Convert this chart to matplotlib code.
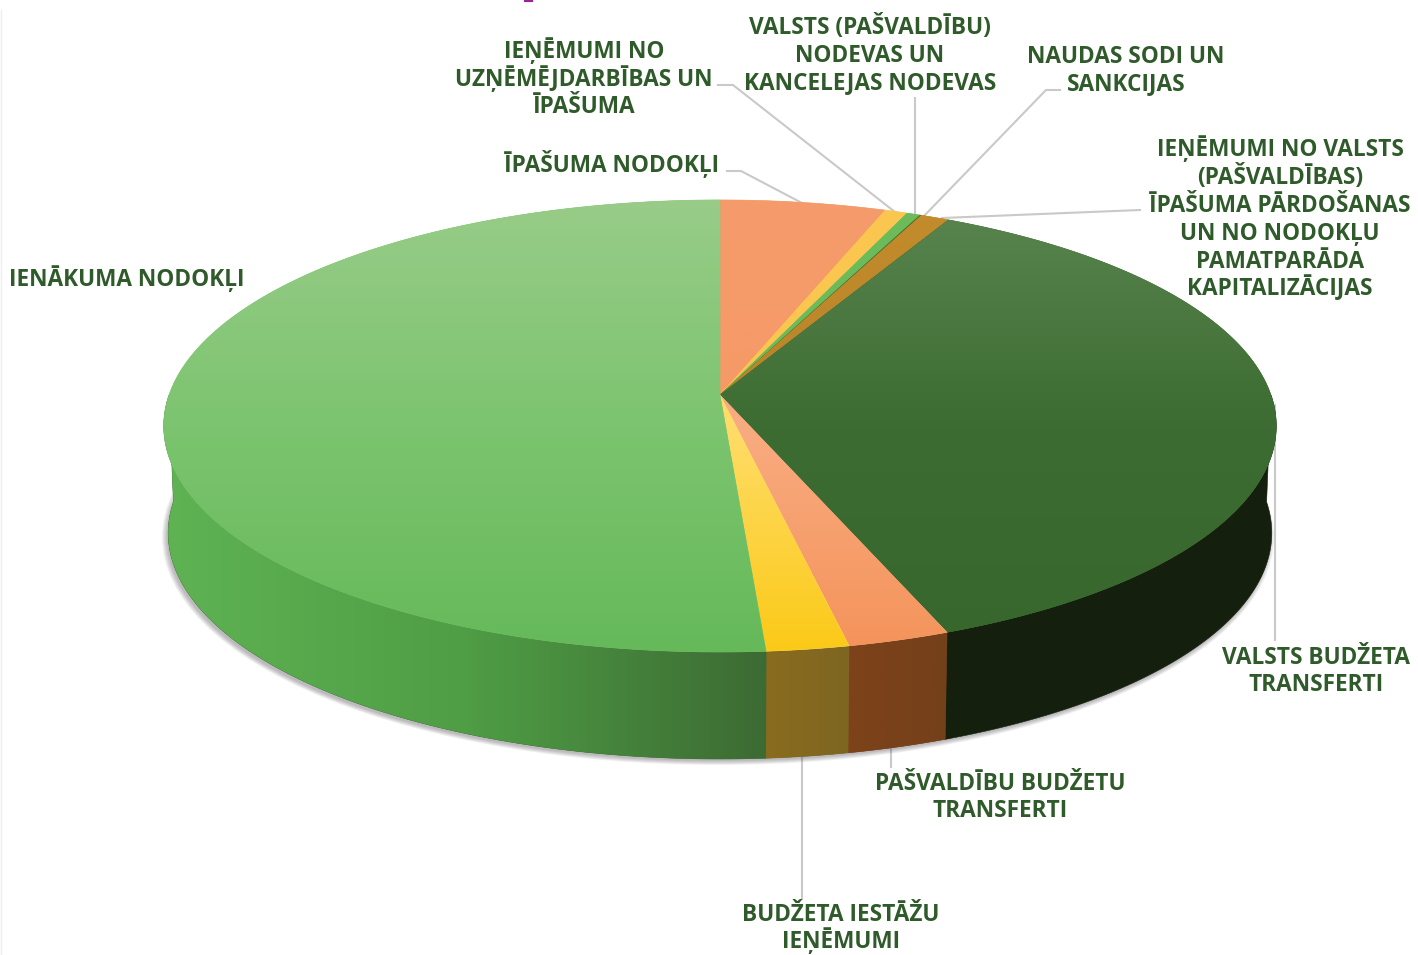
import numpy as np
import matplotlib
matplotlib.use("Agg")
import matplotlib.pyplot as plt
from matplotlib.colors import LinearSegmentedColormap
from matplotlib.patches import Polygon, Ellipse

#values, clockwise from the top
categories = ["ĪPAŠUMA NODOKĻI", "IEŅĒMUMI NO\nUZŅĒMĒJDARBĪBAS UN\nĪPAŠUMA",
              "VALSTS (PAŠVALDĪBU)\nNODEVAS UN\nKANCELEJAS NODEVAS",
              "NAUDAS SODI UN\nSANKCIJAS",
              "IEŅĒMUMI NO VALSTS\n(PAŠVALDĪBAS)\nĪPAŠUMA PĀRDOŠANAS\nUN NO NODOKĻU\nPAMATPARĀDA\nKAPITALIZĀCIJAS",
              "VALSTS BUDŽETA\nTRANSFERTI", "PAŠVALDĪBU BUDŽETU\nTRANSFERTI",
              "BUDŽETA IESTĀŽU\nIEŅĒMUMI", "IENĀKUMA NODOKĻI"]
values = [5.5, 0.75, 0.45, 0.05, 0.95, 36.45, 2.6, 2.1, 51.15]

#top colours: y=200, y=427, y=655
top_colors = [["#f59c6c", "#f59a66", "#f59a66"],
              ["#fac650", "#fac650", "#fac650"],
              ["#6cbb5a", "#6cbb5a", "#6cbb5a"],
              ["#55702f", "#55702f", "#55702f"],
              ["#c38c2c", "#b8842a", "#b8842a"],
              ["#5a8550", "#3c6c31", "#37672c"],
              ["#f9ab80", "#f9ab80", "#f4935a"],
              ["#ffdf70", "#ffdc68", "#fbc916"],
              ["#98cc88", "#7cc46f", "#65b959"]]
#side colours, left to right
side_colors = [["#7a4018", "#7a4018"], ["#7e6622", "#7e6622"], ["#3c6a33", "#3c6a33"],
               ["#141f0d", "#141f0d"], ["#7a5a1c", "#7a5a1c"], ["#141f0d", "#141f0d"],
               ["#7e431a", "#74401a"], ["#8a6c1e", "#7e6622"], ["#5fb353", "#4f9d45", "#3c6a33"]]
side_ranges = [(160, 950)] * 6 + [(845, 945), (763, 845), (165, 770)]

label_pos = [(612, 164), (584, 78), (870, 54), (1126, 69), (1280, 218.5),
             (1316, 670), (1000, 796), (841, 927), (127, 278)]
leaders = [[(727, 171), (741, 171), (802, 203)],
           [(718, 85), (733, 85), (895, 212)],
           [(915, 98), (915, 215)],
           [(1060, 90), (1046, 90), (924, 216)],
           [(1140, 210), (942, 218)],
           [(1275, 405), (1275, 640)],
           [(891, 745), (891, 767)],
           [(802, 750), (802, 899)]]

#perspective numbers for the disc
cx, cy = 720, 395
a_x, b_y, k = 551, 221.8, 0.137
depth = 107
shrink = 0.992
text_color = "#2f5a2a"
line_step = 27.8


def project(theta):
    X = np.sin(theta)
    Y = np.cos(theta)
    w = 1 + k * Y
    return cx + a_x * X / w, cy - b_y * Y / w


def gradient(colors, patch, horizontal=None):
    cmap = LinearSegmentedColormap.from_list("g", colors)
    if horizontal:
        img = np.linspace(0, 1, 256).reshape(1, -1)
        extent = (horizontal[0], horizontal[1], 955, 0)
    else:
        img = np.linspace(0, 1, 256).reshape(-1, 1)
        extent = (0, 1418, 655, 200)
    im = ax.imshow(img, cmap=cmap, extent=extent, origin="upper", aspect="auto", zorder=patch.get_zorder())
    im.set_clip_path(patch)


fig = plt.figure(figsize=(14.18, 9.55), dpi=100)
ax = fig.add_axes([0, 0, 1, 1])
plt.rcParams["font.family"] = ["Open Sans", "DejaVu Sans"]

#leaders go under the disc
for pts in leaders:
    ax.plot([p[0] for p in pts], [p[1] for p in pts], color="#c9c9c9", lw=1.5, zorder=1, solid_joinstyle="round")

#soft shadow
for i in range(6):
    ax.add_patch(Ellipse((718, 537), 2 * (551 + i), 2 * (224 + i * 0.8), facecolor="#4a444c", alpha=0.07, edgecolor="none", zorder=2))

edges = np.concatenate([[0], np.cumsum(values)]) / sum(values) * 2 * np.pi

#side walls, only the front half can be seen
for i in range(len(values)):
    t0 = max(edges[i], np.pi / 2)
    t1 = min(edges[i + 1], 3 * np.pi / 2)
    if t1 <= t0:
        continue
    t = np.linspace(t0, t1, 120)
    x, y = project(t)
    xb = cx + (x - cx) * shrink
    yb = y + depth
    pts = np.column_stack([np.concatenate([x, xb[::-1]]), np.concatenate([y, yb[::-1]])])
    wall = Polygon(pts, closed=True, facecolor=side_colors[i][-1], edgecolor=side_colors[i][-1], lw=0.4, zorder=3)
    ax.add_patch(wall)
    gradient(side_colors[i], wall, horizontal=side_ranges[i])

#top of the disc
for i in range(len(values)):
    t = np.linspace(edges[i], edges[i + 1], 200)
    x, y = project(t)
    pts = np.column_stack([np.concatenate([[cx], x]), np.concatenate([[cy], y])])
    wedge = Polygon(pts, closed=True, facecolor=top_colors[i][1], edgecolor=top_colors[i][1], lw=0.4, zorder=4)
    ax.add_patch(wedge)
    gradient(top_colors[i], wedge)

#labels, one text per line so the line step stays even
for name, pos in zip(categories, label_pos):
    lines = name.split("\n")
    for j, line in enumerate(lines):
        y = pos[1] + (j - (len(lines) - 1) / 2) * line_step + 7.5
        ax.text(pos[0], y, line, ha="center", va="baseline", color=text_color, fontsize=16.3,
                fontweight="bold", zorder=6, clip_on=True)

#scrap of clipped purple text at the top edge and the faint left border
ax.plot([525, 532], [0.8, 0.8], color="#a0209a", lw=1.5, zorder=6)
ax.plot([0.5, 0.5], [10, 955], color="#efefef", lw=1, zorder=0)

ax.set_xlim(0, 1418)
ax.set_ylim(955, 0)
ax.axis("off")
fig.savefig("out.png", dpi=100)
